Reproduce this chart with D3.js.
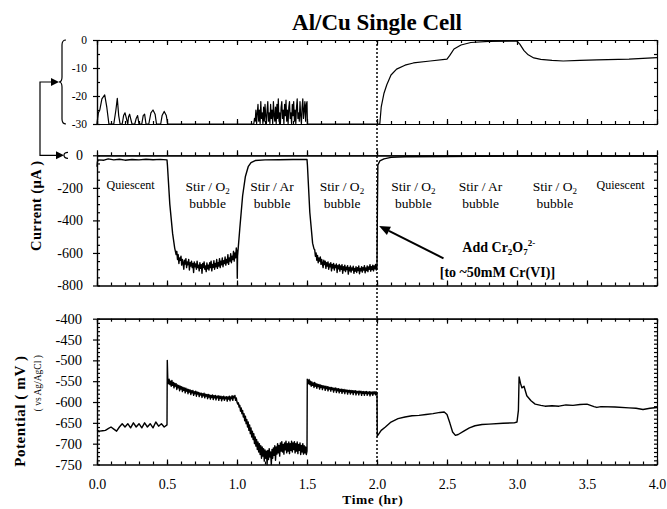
<!DOCTYPE html>
<html>
<head>
<meta charset="utf-8">
<script src="https://cdnjs.cloudflare.com/ajax/libs/d3/7.8.5/d3.min.js"></script>
<style>
  body { margin: 0; background: #fff; }
  text { font-family: "Liberation Serif", "Times New Roman", serif; fill: #000; }
  .axis path, .axis line { stroke: #000; }
  .axis text { font-size: 14px; }
</style>
</head>
<body>
<svg id="chart" width="667" height="509"></svg>
<script>

// ---- data (time in hr) ----

// zoomed current trace, 0 to -30 uA (clipped at -30)
const topCurrent = [
  [0.000,-30],[0.010,-26],[0.020,-25],[0.035,-21],[0.055,-19.6],[0.070,-24],[0.085,-30],
  [0.120,-30],[0.135,-25],[0.145,-20.8],[0.155,-27],[0.165,-30],[0.180,-30],[0.190,-27],
  [0.200,-26],[0.210,-28],[0.220,-30],[0.225,-27.5],[0.233,-26.5],[0.240,-28],[0.250,-30],
  [0.270,-30],[0.280,-28],[0.290,-27],[0.300,-30],[0.320,-30],[0.330,-27],[0.340,-26.5],
  [0.350,-30],[0.370,-30],[0.385,-26],[0.400,-25],[0.415,-26.5],[0.425,-30],[0.455,-30],
  [0.465,-27],[0.480,-25.5],[0.495,-27],[0.505,-30],[1.100,-30],
  [1.120,-30],[1.125,-28],[1.130,-29],[1.135,-25],[1.140,-30],[1.145,-26],[1.150,-23],
  [1.155,-29],[1.160,-25],[1.165,-30],[1.170,-22],[1.175,-28],[1.180,-26],[1.185,-30],
  [1.190,-24],[1.195,-29],[1.200,-23],[1.205,-27],[1.210,-30],[1.215,-25],[1.220,-22],
  [1.225,-29],[1.230,-26],[1.235,-30],[1.240,-23],[1.245,-28],[1.250,-25],[1.255,-30],
  [1.260,-22],[1.265,-27],[1.270,-29],[1.275,-24],[1.280,-30],[1.285,-23],[1.290,-28],
  [1.295,-21],[1.300,-29],[1.305,-26],[1.310,-30],[1.315,-24],[1.320,-22],[1.325,-28],
  [1.330,-25],[1.335,-30],[1.340,-23],[1.345,-27],[1.350,-21.5],[1.355,-29],[1.360,-25],
  [1.365,-30],[1.370,-24],[1.375,-22],[1.380,-28],[1.385,-26],[1.390,-30],[1.395,-23],
  [1.400,-27],[1.405,-22],[1.410,-29],[1.415,-25],[1.420,-30],[1.425,-24],[1.430,-21],
  [1.435,-28],[1.440,-26],[1.445,-29],[1.450,-22],[1.455,-27],[1.460,-30],[1.465,-24],
  [1.470,-21],[1.475,-28],[1.480,-25],[1.485,-22],[1.490,-29],[1.495,-23],[1.500,-22],
  [1.503,-30],[2.000,-30],[2.020,-30],[2.030,-24],[2.050,-19],[2.070,-16],[2.100,-12.5],
  [2.140,-10.4],[2.200,-9],[2.260,-8.2],[2.380,-7.5],[2.500,-6.8],[2.520,-5.5],[2.550,-3.2],
  [2.600,-1.8],[2.670,-0.9],[2.800,-0.5],[3.000,-0.4],[3.020,-1.5],[3.050,-3.8],[3.080,-5.3],
  [3.120,-6.4],[3.170,-6.9],[3.250,-7.3],[3.330,-7.5],[3.450,-7.3],[3.570,-7.1],[3.800,-6.8],
  [4.000,-6.3]
];

// full current trace, uA
const current = [
  [0.000,-70],[0.003,-40],[0.010,-28],[0.050,-30],[0.080,-22],[0.120,-28],[0.160,-24],
  [0.200,-30],[0.250,-26],[0.300,-28],[0.350,-24],[0.400,-27],[0.450,-25],[0.500,-28],
  [0.503,-60],[0.520,-300],[0.540,-480],[0.555,-570],[0.565,-610],
  [0.570,-590],[0.575,-640],[0.580,-610],[0.585,-665],[0.590,-630],[0.595,-645],[0.600,-620],
  [0.605,-675],[0.610,-640],[0.615,-660],[0.620,-700],[0.625,-645],[0.630,-668],[0.635,-635],
  [0.640,-690],[0.645,-655],[0.650,-672],[0.655,-640],[0.660,-705],[0.665,-660],[0.670,-680],
  [0.675,-650],[0.680,-690],[0.685,-665],[0.690,-720],[0.695,-655],[0.700,-685],[0.705,-668],
  [0.710,-700],[0.715,-650],[0.720,-690],[0.725,-675],[0.730,-710],[0.735,-660],[0.740,-695],
  [0.745,-672],[0.750,-725],[0.755,-665],[0.760,-690],[0.765,-655],[0.770,-700],[0.775,-680],
  [0.780,-715],[0.785,-662],[0.790,-698],[0.795,-675],[0.800,-705],[0.805,-660],[0.810,-690],
  [0.815,-650],[0.820,-710],[0.825,-670],[0.830,-688],[0.835,-648],[0.840,-700],[0.845,-665],
  [0.850,-685],[0.855,-640],[0.860,-695],[0.865,-660],[0.870,-680],[0.875,-635],[0.880,-690],
  [0.885,-650],[0.890,-672],[0.895,-630],[0.900,-685],[0.905,-648],[0.910,-665],[0.915,-625],
  [0.920,-675],[0.925,-640],[0.930,-660],[0.935,-610],[0.940,-670],[0.945,-630],[0.950,-650],
  [0.955,-605],[0.960,-660],[0.965,-620],[0.970,-640],[0.975,-590],[0.980,-650],[0.985,-600],
  [0.990,-630],[0.995,-570],[1.000,-600],[1.002,-755],[1.004,-620],[1.020,-450],[1.040,-250],
  [1.060,-130],[1.080,-70],[1.100,-45],[1.130,-32],[1.200,-28],[1.300,-27],[1.400,-26],
  [1.500,-25],[1.503,-60],[1.520,-350],[1.540,-540],[1.550,-575],
  [1.555,-580],[1.560,-620],[1.565,-600],[1.570,-645],[1.575,-615],[1.580,-660],[1.585,-630],
  [1.590,-650],[1.595,-625],[1.600,-670],[1.605,-640],[1.610,-665],[1.615,-690],[1.620,-645],
  [1.625,-672],[1.630,-650],[1.635,-695],[1.640,-660],[1.645,-680],[1.650,-655],[1.655,-700],
  [1.660,-668],[1.665,-685],[1.670,-660],[1.675,-710],[1.680,-670],[1.685,-692],[1.690,-665],
  [1.695,-705],[1.700,-675],[1.705,-690],[1.710,-668],[1.715,-720],[1.720,-678],[1.725,-698],
  [1.730,-670],[1.735,-712],[1.740,-680],[1.745,-700],[1.750,-672],[1.755,-725],[1.760,-685],
  [1.765,-705],[1.770,-675],[1.775,-715],[1.780,-688],[1.785,-702],[1.790,-678],[1.795,-730],
  [1.800,-690],[1.805,-710],[1.810,-680],[1.815,-718],[1.820,-692],[1.825,-705],[1.830,-682],
  [1.835,-725],[1.840,-695],[1.845,-712],[1.850,-685],[1.855,-720],[1.860,-690],[1.865,-708],
  [1.870,-680],[1.875,-728],[1.880,-695],[1.885,-710],[1.890,-684],[1.895,-718],[1.900,-690],
  [1.905,-705],[1.910,-678],[1.915,-722],[1.920,-692],[1.925,-708],[1.930,-680],[1.935,-715],
  [1.940,-686],[1.945,-700],[1.950,-672],[1.955,-712],[1.960,-684],[1.965,-702],[1.970,-675],
  [1.975,-710],[1.980,-680],[1.985,-698],[1.990,-670],[1.995,-705],[2.000,-688],
  [2.003,-300],[2.006,-60],[2.020,-35],[2.050,-22],[2.100,-13],[2.200,-9],[2.500,-7],
  [3.000,-5],[3.500,-5],[4.000,-5]
];

// potential, mV vs Ag/AgCl
const potential = [
  [0.00,-668],[0.02,-670],[0.04,-669],[0.06,-668],[0.08,-664],[0.10,-660],[0.12,-665],
  [0.14,-670],[0.16,-660],[0.18,-652],[0.20,-660],[0.22,-652],[0.24,-662],[0.26,-650],
  [0.28,-660],[0.30,-652],[0.32,-662],[0.34,-650],[0.36,-660],[0.38,-652],[0.40,-662],
  [0.42,-648],[0.44,-658],[0.46,-652],[0.48,-660],[0.50,-655],[0.502,-500],[0.506,-550],
  [0.510,-556],[0.515,-545],[0.520,-558],[0.525,-550],[0.530,-562],[0.535,-548],[0.540,-560],
  [0.545,-553],[0.550,-566],[0.555,-555],[0.560,-562],[0.565,-556],[0.570,-570],[0.575,-559],
  [0.580,-566],[0.585,-560],[0.590,-573],[0.595,-562],[0.600,-569],[0.605,-563],[0.610,-575],
  [0.615,-565],[0.620,-572],[0.625,-566],[0.630,-578],[0.635,-567],[0.640,-574],[0.645,-569],
  [0.650,-580],[0.655,-570],[0.660,-576],[0.665,-571],[0.670,-582],[0.675,-573],[0.680,-578],
  [0.685,-572],[0.690,-584],[0.695,-575],[0.700,-580],[0.705,-574],[0.710,-586],[0.715,-576],
  [0.720,-581],[0.725,-577],[0.730,-587],[0.735,-578],[0.740,-583],[0.745,-579],[0.750,-589],
  [0.755,-580],[0.760,-585],[0.765,-579],[0.770,-590],[0.775,-581],[0.780,-586],[0.785,-582],
  [0.790,-592],[0.795,-582],[0.800,-588],[0.805,-583],[0.810,-593],[0.815,-584],[0.820,-589],
  [0.825,-583],[0.830,-594],[0.835,-585],[0.840,-590],[0.845,-584],[0.850,-595],[0.855,-586],
  [0.860,-590],[0.865,-585],[0.870,-596],[0.875,-586],[0.880,-591],[0.885,-586],[0.890,-597],
  [0.895,-587],[0.900,-592],[0.905,-586],[0.910,-596],[0.915,-588],[0.920,-592],[0.925,-587],
  [0.930,-598],[0.935,-588],[0.940,-593],[0.945,-586],[0.950,-597],[0.955,-588],[0.960,-592],
  [0.965,-585],[0.970,-596],[0.975,-586],[0.980,-590],[0.985,-584],[0.990,-596],[0.995,-590],
  [1.000,-600],[1.005,-605],[1.010,-602],[1.015,-612],[1.020,-608],[1.025,-622],[1.030,-614],
  [1.035,-628],[1.040,-620],[1.045,-636],[1.050,-628],[1.055,-645],[1.060,-634],[1.065,-652],
  [1.070,-642],[1.075,-660],[1.080,-648],[1.085,-668],[1.090,-655],[1.095,-676],[1.100,-662],
  [1.105,-684],[1.110,-670],[1.115,-690],[1.120,-676],[1.125,-700],[1.130,-684],[1.135,-706],
  [1.140,-690],[1.145,-714],[1.150,-696],[1.155,-720],[1.160,-700],[1.165,-726],[1.170,-705],
  [1.175,-735],[1.180,-708],[1.185,-730],[1.190,-712],[1.195,-742],[1.200,-715],[1.205,-735],
  [1.210,-718],[1.215,-750],[1.220,-716],[1.225,-738],[1.230,-712],[1.235,-732],[1.240,-720],
  [1.245,-750],[1.250,-714],[1.255,-735],[1.260,-710],[1.265,-728],[1.270,-705],[1.275,-740],
  [1.280,-708],[1.285,-725],[1.290,-700],[1.295,-722],[1.300,-704],[1.305,-730],[1.310,-698],
  [1.315,-718],[1.320,-695],[1.325,-720],[1.330,-702],[1.335,-725],[1.340,-698],[1.345,-715],
  [1.350,-694],[1.355,-722],[1.360,-700],[1.365,-718],[1.370,-696],[1.375,-724],[1.380,-700],
  [1.385,-716],[1.390,-694],[1.395,-720],[1.400,-698],[1.405,-714],[1.410,-695],[1.415,-722],
  [1.420,-700],[1.425,-718],[1.430,-696],[1.435,-724],[1.440,-702],[1.445,-716],[1.450,-698],
  [1.455,-726],[1.460,-704],[1.465,-720],[1.470,-700],[1.475,-725],[1.480,-705],[1.485,-722],
  [1.490,-708],[1.495,-726],[1.500,-718],[1.502,-545],
  [1.505,-548],[1.510,-556],[1.515,-546],[1.520,-558],[1.525,-550],[1.530,-562],[1.535,-552],
  [1.540,-560],[1.545,-554],[1.550,-565],[1.555,-553],[1.560,-562],[1.565,-556],[1.570,-567],
  [1.575,-557],[1.580,-563],[1.585,-558],[1.590,-569],[1.595,-559],[1.600,-565],[1.605,-560],
  [1.610,-570],[1.615,-561],[1.620,-566],[1.625,-562],[1.630,-572],[1.635,-562],[1.640,-568],
  [1.645,-563],[1.650,-573],[1.655,-564],[1.660,-569],[1.665,-565],[1.670,-574],[1.675,-565],
  [1.680,-570],[1.685,-566],[1.690,-576],[1.695,-567],[1.700,-571],[1.705,-566],[1.710,-577],
  [1.715,-568],[1.720,-573],[1.725,-568],[1.730,-578],[1.735,-569],[1.740,-574],[1.745,-569],
  [1.750,-579],[1.755,-570],[1.760,-575],[1.765,-570],[1.770,-580],[1.775,-571],[1.780,-575],
  [1.785,-571],[1.790,-581],[1.795,-572],[1.800,-576],[1.805,-572],[1.810,-581],[1.815,-572],
  [1.820,-577],[1.825,-573],[1.830,-582],[1.835,-573],[1.840,-577],[1.845,-573],[1.850,-583],
  [1.855,-574],[1.860,-578],[1.865,-574],[1.870,-583],[1.875,-574],[1.880,-578],[1.885,-574],
  [1.890,-584],[1.895,-575],[1.900,-579],[1.905,-575],[1.910,-584],[1.915,-575],[1.920,-579],
  [1.925,-575],[1.930,-584],[1.935,-576],[1.940,-580],[1.945,-575],[1.950,-585],[1.955,-576],
  [1.960,-580],[1.965,-576],[1.970,-584],[1.975,-576],[1.980,-580],[1.985,-575],[1.990,-583],
  [1.995,-576],[2.000,-578],
  [2.002,-682],[2.03,-668],[2.06,-660],[2.10,-648],[2.15,-640],[2.20,-636],[2.25,-633],
  [2.30,-632],[2.35,-630],[2.40,-628],[2.45,-625],[2.48,-624],[2.50,-630],[2.52,-650],
  [2.54,-672],[2.56,-680],[2.58,-678],[2.62,-670],[2.66,-662],[2.70,-657],[2.75,-654],
  [2.80,-653],[2.90,-651],[2.98,-650],[3.00,-648],[3.01,-620],[3.015,-540],[3.025,-555],
  [3.035,-566],[3.05,-562],[3.07,-585],[3.10,-597],[3.13,-605],[3.17,-608],[3.20,-610],
  [3.25,-609],[3.30,-610],[3.35,-607],[3.40,-608],[3.45,-606],[3.50,-605],[3.55,-611],
  [3.57,-613],[3.60,-611],[3.70,-612],[3.80,-614],[3.85,-615],[3.90,-618],[3.95,-615],
  [4.00,-613]
];

const xLabels = [0, 0.5, 1, 1.5, 2, 2.5, 3, 3.5, 4];
const topLabels = [0, -10, -20, -30];
const midLabels = [0, -200, -400, -600, -800];
const botLabels = [-400, -450, -500, -550, -600, -650, -700, -750];

// condition labels in the current panel: [time, first line, second line]
const conditions = [
  [0.24, "Quiescent", ""],
  [0.79, "Stir / O|2", "bubble"],
  [1.25, "Stir / Ar", "bubble"],
  [1.75, "Stir / O|2", "bubble"],
  [2.26, "Stir / O|2", "bubble"],
  [2.74, "Stir / Ar", "bubble"],
  [3.27, "Stir / O|2", "bubble"],
  [3.74, "Quiescent", ""]
];

// ---- scales ----
const svg = d3.select("#chart");
const x = d3.scaleLinear().domain([0, 4]).range([97, 657]);
const yTop = d3.scaleLinear().domain([-30, 0]).range([124, 40]);
const yMid = d3.scaleLinear().domain([-800, 0]).range([285.5, 155.3]);
const yBot = d3.scaleLinear().domain([-750, -400]).range([464.5, 318.7]);

const xMinor = x.ticks(40);
const xMajor = x.ticks(8);

// draws the frame of one panel: tick rows top and bottom, labelled left axis, ticked right edge
function frame(ys, labels, minor, opts) {
  let g = svg.append("g").attr("class", "axis");
  let [yb, yt] = ys.range();

  // top edge
  let topAxis = opts.topOut ? d3.axisTop : d3.axisBottom;
  g.append("g").attr("transform", `translate(0,${yt})`)
    .call(topAxis(x).tickValues(xMinor).tickSize(3).tickSizeOuter(0).tickFormat(""));
  g.append("g").attr("transform", `translate(0,${yt})`)
    .call(topAxis(x).tickValues(xMajor).tickSize(5).tickSizeOuter(0).tickFormat(""));

  // bottom edge, ticks pointing in
  g.append("g").attr("transform", `translate(0,${yb})`)
    .call(d3.axisTop(x).tickValues(xMinor).tickSize(3).tickSizeOuter(0).tickFormat(""));
  g.append("g").attr("transform", `translate(0,${yb})`)
    .call(d3.axisTop(x).tickValues(xMajor).tickSize(5).tickSizeOuter(0).tickFormat(""));

  // left axis with labels
  g.append("g").attr("transform", `translate(${x(0)},0)`)
    .call(d3.axisLeft(ys).tickValues(labels).tickSize(4).tickSizeOuter(0)
      .tickPadding(opts.pad).tickFormat(d => String(d)))
    .selectAll("text").style("font-size", opts.font + "px");
  g.append("g").attr("transform", `translate(${x(0)},0)`)
    .call(d3.axisRight(ys).tickValues(minor).tickSize(3).tickSizeOuter(0).tickFormat(""));

  // right edge
  g.append("g").attr("transform", `translate(${x(4)},0)`)
    .call(d3.axisLeft(ys).tickValues(minor).tickSize(3).tickSizeOuter(0).tickFormat(""));

  g.selectAll("path, line").attr("stroke-width", 1.2);
  return g;
}

frame(yTop, topLabels, d3.range(0, -30.1, -5), { pad: 6, font: 11.5, topOut: false });
frame(yMid, midLabels, d3.range(0, -801, -50), { pad: 10, font: 14, topOut: true });
frame(yBot, botLabels, d3.range(-400, -751, -10), { pad: 11, font: 14.5, topOut: false });

// x labels under the bottom panel
svg.append("g").attr("class", "axis")
  .attr("transform", `translate(0,${yBot.range()[0]})`)
  .call(d3.axisBottom(x).tickValues(xLabels).tickSize(0).tickPadding(15)
    .tickFormat(d => d.toFixed(1)))
  .call(g => g.select(".domain").remove())
  .selectAll("text").style("font-size", "14px");

// ---- traces ----
function trace(data, ys, w) {
  svg.append("path")
    .datum(data)
    .attr("fill", "none")
    .attr("stroke", "#000")
    .attr("stroke-width", w)
    .attr("stroke-linejoin", "round")
    .attr("d", d3.line().x(d => x(d[0])).y(d => ys(d[1])));
}
trace(topCurrent, yTop, 1.2);
trace(current, yMid, 1.4);
trace(potential, yBot, 1.4);

// Cr(VI) addition marker
svg.append("line")
  .attr("x1", x(2)).attr("x2", x(2))
  .attr("y1", yTop(0)).attr("y2", yBot(-750))
  .attr("stroke", "#000").attr("stroke-width", 1.5)
  .attr("stroke-dasharray", "2,2");

// ---- text ----
svg.append("text")
  .attr("x", x(2)).attr("y", 30)
  .attr("text-anchor", "middle")
  .style("font-size", "23px").style("font-weight", "bold")
  .text("Al/Cu Single Cell");

svg.append("text")
  .attr("x", x(1.97)).attr("y", 504)
  .attr("text-anchor", "middle")
  .style("font-size", "13.5px").style("font-weight", "bold")
  .style("letter-spacing", "0.6px")
  .text("Time (hr)");

svg.append("text")
  .attr("transform", `translate(41,${yMid(-310)}) rotate(-90)`)
  .attr("text-anchor", "middle")
  .style("font-size", "14.5px").style("font-weight", "bold")
  .style("letter-spacing", "0.4px")
  .text("Current (\u03bcA )");

svg.append("text")
  .attr("transform", `translate(25,${yBot(-622)}) rotate(-90)`)
  .attr("text-anchor", "middle")
  .style("font-size", "15px").style("font-weight", "bold")
  .style("letter-spacing", "0.6px")
  .text("Potential ( mV )");

svg.append("text")
  .attr("transform", `translate(41,${yBot(-555)}) rotate(-90)`)
  .attr("text-anchor", "middle")
  .style("font-size", "9.5px")
  .text("( vs Ag/AgCl )");

// condition labels; "|" marks a subscript digit
conditions.forEach(([t, l1, l2]) => {
  let small = l2 === "";
  let t1 = svg.append("text")
    .attr("x", x(t)).attr("y", yMid(small ? -208 : -220))
    .attr("text-anchor", "middle")
    .style("font-size", small ? "12px" : "13.5px");
  let parts = l1.split("|");
  t1.append("tspan").text(parts[0]);
  if (parts[1]) {
    t1.append("tspan").attr("dy", 3).style("font-size", "9px").text(parts[1]);
  }
  if (l2) {
    svg.append("text")
      .attr("x", x(t)).attr("y", yMid(-323))
      .attr("text-anchor", "middle")
      .style("font-size", "13.5px")
      .text(l2);
  }
});

// arrow to the addition point
const arrowTail = [2.475, -633];
const arrowTip = [2.015, -434];
{
  let x1 = x(arrowTail[0]), y1 = yMid(arrowTail[1]);
  let x2 = x(arrowTip[0]), y2 = yMid(arrowTip[1]);
  let a = Math.atan2(y2 - y1, x2 - x1);
  let hl = 11, hw = 4.5;
  let bx = x2 - hl * Math.cos(a), by = y2 - hl * Math.sin(a);
  svg.append("line")
    .attr("x1", x1).attr("y1", y1).attr("x2", bx).attr("y2", by)
    .attr("stroke", "#000").attr("stroke-width", 2);
  svg.append("path")
    .attr("d", `M${x2},${y2}L${bx + hw * Math.sin(a)},${by - hw * Math.cos(a)}L${bx - hw * Math.sin(a)},${by + hw * Math.cos(a)}Z`)
    .attr("fill", "#000");
}

let add = svg.append("text")
  .attr("x", x(2.87)).attr("y", yMid(-594))
  .attr("text-anchor", "middle")
  .style("font-size", "14px").style("font-weight", "bold");
add.append("tspan").text("Add Cr");
add.append("tspan").attr("dy", 3).style("font-size", "9px").text("2");
add.append("tspan").attr("dy", -3).text("O");
add.append("tspan").attr("dy", 3).style("font-size", "9px").text("7");
add.append("tspan").attr("dy", -9).style("font-size", "9px").text("2-");

svg.append("text")
  .attr("x", x(2.86)).attr("y", yMid(-746))
  .attr("text-anchor", "middle")
  .style("font-size", "14px").style("font-weight", "bold")
  .text("[to ~50mM Cr(VI)]");

// ---- connector from the zoomed panel to the current panel ----
{
  let yt = yTop(0), yb = yTop(-30), ym = (yt + yb) / 2;
  let y0 = yMid(0);
  let c = svg.append("g").attr("fill", "none").attr("stroke", "#000").attr("stroke-width", 1.2);
  // brace
  c.append("path").attr("d",
    `M66,${yt} Q62,${yt} 62,${yt + 5} L62,${ym - 5} Q62,${ym} 59,${ym} Q62,${ym} 62,${ym + 5} L62,${yb - 5} Q62,${yb} 66,${yb}`);
  // elbow line
  c.append("path").attr("d", `M52,${ym} L40,${ym} L40,${y0} L57,${y0}`);
  // small bracket at zero of current axis
  c.append("path").attr("d", `M68,${y0 - 3} Q64,${y0 - 3} 64,${y0} Q64,${y0 + 3} 68,${y0 + 3}`);
  svg.append("path").attr("d", `M59,${ym} L51,${ym - 4} L51,${ym + 4} Z`).attr("fill", "#000");
  svg.append("path").attr("d", `M64,${y0} L56,${y0 - 4} L56,${y0 + 4} Z`).attr("fill", "#000");
}
</script>
</body>
</html>
